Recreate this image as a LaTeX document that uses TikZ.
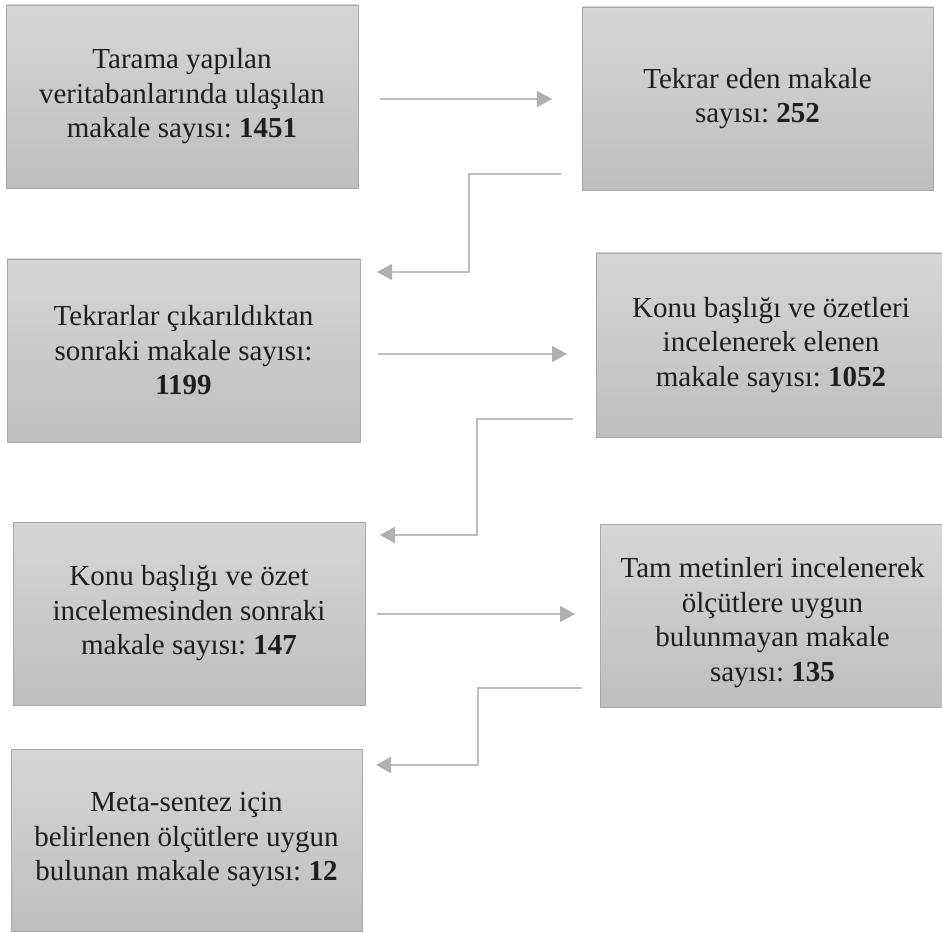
\documentclass[tikz,border=0pt]{standalone}
\usepackage{fontspec}
\setmainfont{Liberation Serif}
\frenchspacing
\usetikzlibrary{arrows.meta}
\definecolor{boxtop}{RGB}{214,214,214}
\definecolor{boxbot}{RGB}{190,190,190}
\definecolor{boxline}{RGB}{168,168,168}
\definecolor{linegray}{RGB}{190,190,192}
\definecolor{tipgray}{RGB}{176,176,180}
\definecolor{txt}{RGB}{30,30,30}
\tikzset{
  box/.style={rectangle, draw=boxline, line width=0.9pt, top color=boxtop, bottom color=boxbot,
    inner sep=0pt, align=center, text=txt,
    font=\fontsize{29}{34.5}\selectfont},
  conn/.style={draw=linegray, line width=1.5pt,
    -{Triangle[length=15pt,width=16pt,color=tipgray]}},
}
\begin{document}
\begin{tikzpicture}[x=1pt,y=-1pt]
\useasboundingbox (0,0) rectangle (942,933);
% boxes
\node[box, minimum width=352pt, minimum height=183pt] (b1) at (182,96.5)
  {Tarama yapılan\\veritabanlarında ulaşılan\\makale sayısı: \textbf{1451}};
\node[box, minimum width=351pt, minimum height=183pt] (b2) at (757.5,98.5)
  {Tekrar eden makale\\sayısı: \textbf{252}};
\node[box, minimum width=353pt, minimum height=183pt] (b3) at (183.5,350.5)
  {Tekrarlar çıkarıldıktan\\sonraki makale sayısı:\\\textbf{1199}};
\node[box, minimum width=350pt, minimum height=184pt] (b4) at (771,345)
  {Konu başlığı ve özetleri\\incelenerek elenen\\makale sayısı: \textbf{1052}};
\node[box, minimum width=352pt, minimum height=183pt] (b5) at (189,613.5)
  {Konu başlığı ve özet\\incelemesinden sonraki\\makale sayısı: \textbf{147}};
\node[box, minimum width=345pt, minimum height=183pt] (b6) at (772.5,615.5)
  {\rule{0pt}{34pt}Tam metinleri incelenerek\\ölçütlere uygun\\bulunmayan makale\\sayısı: \textbf{135}};
\node[box, minimum width=351pt, minimum height=182pt] (b7) at (186.5,840)
  {Meta-sentez için\\belirlenen ölçütlere uygun\\bulunan makale sayısı: \textbf{12}};
% connector end points
\coordinate (a1s) at (380,99);  \coordinate (a1e) at (552,99);
\coordinate (a2s) at (378,354); \coordinate (a2e) at (567,354);
\coordinate (a3s) at (377,614); \coordinate (a3e) at (575,614);
\coordinate (c1s) at (561,174); \coordinate (c1k) at (469,223); \coordinate (c1e) at (377,272);
\coordinate (c2s) at (573,419); \coordinate (c2k) at (477,477); \coordinate (c2e) at (380,535);
\coordinate (c3s) at (582,688); \coordinate (c3k) at (478,726); \coordinate (c3e) at (376,765);
% connectors
\draw[conn] (a1s) -- (a1e);
\draw[conn] (a2s) -- (a2e);
\draw[conn] (a3s) -- (a3e);
\draw[conn] (c1s) -| (c1k) |- (c1e);
\draw[conn] (c2s) -| (c2k) |- (c2e);
\draw[conn] (c3s) -| (c3k) |- (c3e);
\end{tikzpicture}
\end{document}
